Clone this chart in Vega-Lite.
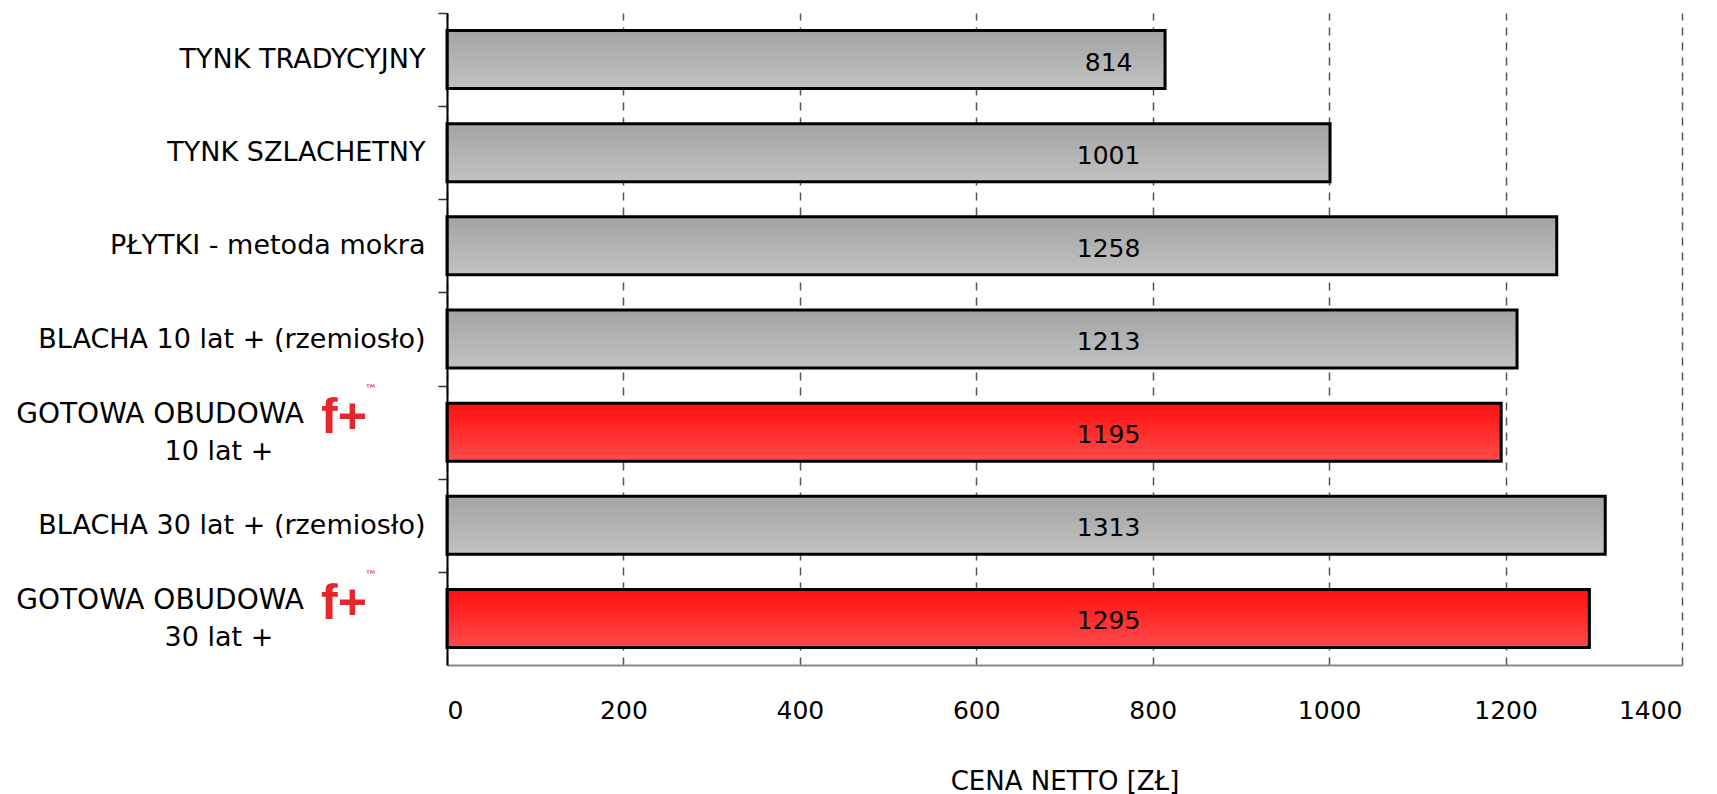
{
  "$schema": "https://vega.github.io/schema/vega-lite/v6.json",
  "width": 1235,
  "height": 652,
  "autosize": {"type": "none"},
  "padding": {"left": 447, "top": 13, "right": 35, "bottom": 129},
  "background": "white",
  "config": {"view": {"stroke": null}, "font": "DejaVu Sans", "text": {"font": "DejaVu Sans"}},
  "data": {"values": [
    {"cat": "TYNK TRADYCYJNY", "value": 814, "group": "gray"},
    {"cat": "TYNK SZLACHETNY ", "value": 1001, "group": "gray"},
    {"cat": "PŁYTKI - metoda mokra", "value": 1258, "group": "gray"},
    {"cat": "BLACHA 10 lat + (rzemiosło)", "value": 1213, "group": "gray"},
    {"cat": "GOTOWA OBUDOWA 10 lat +", "value": 1195, "group": "red", "line1": "GOTOWA OBUDOWA", "line2": "10 lat +", "logo": "f+", "tm": "™"},
    {"cat": "BLACHA  30 lat + (rzemiosło)", "value": 1313, "group": "gray"},
    {"cat": "GOTOWA OBUDOWA 30 lat +", "value": 1295, "group": "red", "line1": "GOTOWA OBUDOWA", "line2": "30 lat +", "logo": "f+", "tm": "™"}
  ]},
  "encoding": {
    "y": {
      "field": "cat",
      "type": "nominal",
      "sort": null,
      "scale": {
        "domain": ["TYNK TRADYCYJNY", "TYNK SZLACHETNY ", "PŁYTKI - metoda mokra", "BLACHA 10 lat + (rzemiosło)", "GOTOWA OBUDOWA 10 lat +", "BLACHA  30 lat + (rzemiosło)", "GOTOWA OBUDOWA 30 lat +"],
        "paddingInner": 0.377,
        "paddingOuter": 0.1885
      },
      "axis": {
        "title": null,
        "labelExpr": "isString(datum.value) && indexof(datum.value, 'GOTOWA') == 0 ? '' : datum.label",
        "tickOffset": -46.57,
        "labelOffset": 46.57,
        "tickSize": 9,
        "tickColor": "#333333",
        "tickWidth": 1.5,
        "domainColor": "#000000",
        "domainWidth": 2,
        "labelFont": "DejaVu Sans",
        "labelFontSize": 27,
        "labelColor": "#000000",
        "labelPadding": 13,
        "labelLimit": 600,
        "zindex": 1
      }
    }
  },
  "layer": [
    {
      "transform": [{"filter": "datum.group == 'gray'"}],
      "mark": {
        "type": "bar",
        "stroke": "#000000",
        "strokeWidth": 3,
        "color": {"gradient": "linear", "x1": 0, "y1": 0, "x2": 0, "y2": 1, "stops": [{"offset": 0, "color": "#a3a3a3"}, {"offset": 1, "color": "#c2c2c2"}]}
      },
      "encoding": {
        "x": {
          "field": "value",
          "type": "quantitative",
          "scale": {"domain": [0, 1400], "nice": false, "zero": true},
          "axis": {
            "values": [0, 200, 400, 600, 800, 1000, 1200, 1400],
            "format": "d",
            "grid": true,
            "gridDash": [8, 7],
            "gridColor": "#555555",
            "gridWidth": 1.5,
            "ticks": false,
            "domainColor": "#888888",
            "domainWidth": 2,
            "labelFont": "DejaVu Sans",
            "labelFontSize": 25,
            "labelColor": "#000000",
            "labelPadding": 33,
            "title": "CENA NETTO [ZŁ]",
            "titleFont": "DejaVu Sans",
            "titleFontSize": 26,
            "titleFontWeight": "normal",
            "titleColor": "#000000",
            "titlePadding": 45
          }
        }
      }
    },
    {
      "transform": [{"filter": "datum.group == 'red'"}],
      "mark": {
        "type": "bar",
        "stroke": "#000000",
        "strokeWidth": 3,
        "color": {"gradient": "linear", "x1": 0, "y1": 0, "x2": 0, "y2": 1, "stops": [{"offset": 0, "color": "#ff1010"}, {"offset": 1, "color": "#ff4a4a"}]}
      },
      "encoding": {
        "x": {"field": "value", "type": "quantitative"}
      }
    },
    {
      "mark": {"type": "text", "fontSize": 25, "dy": 3, "color": "#000000", "align": "center", "baseline": "middle"},
      "encoding": {
        "x": {"datum": 750, "type": "quantitative"},
        "text": {"field": "value", "type": "quantitative"}
      }
    },
    {
      "transform": [{"filter": "datum.group == 'red'"}],
      "mark": {"type": "text", "fontSize": 28, "dx": -143, "dy": -17, "align": "right", "baseline": "middle", "color": "#000000"},
      "encoding": {
        "x": {"datum": 0, "type": "quantitative"},
        "text": {"field": "line1"}
      }
    },
    {
      "transform": [{"filter": "datum.group == 'red'"}],
      "mark": {"type": "text", "fontSize": 27, "dx": -228, "dy": 20, "align": "center", "baseline": "middle", "color": "#000000"},
      "encoding": {
        "x": {"datum": 0, "type": "quantitative"},
        "text": {"field": "line2"}
      }
    },
    {
      "transform": [{"filter": "datum.group == 'red'"}],
      "mark": {"type": "text", "font": "Liberation Sans", "fontSize": 50, "fontWeight": "bold", "dx": -103, "dy": -14, "align": "center", "baseline": "middle", "color": "#e5262d"},
      "encoding": {
        "x": {"datum": 0, "type": "quantitative"},
        "text": {"field": "logo"}
      }
    },
    {
      "transform": [{"filter": "datum.group == 'red'"}],
      "mark": {"type": "text", "fontSize": 13, "dx": -76, "dy": -42, "align": "center", "baseline": "middle", "color": "#e5262d"},
      "encoding": {
        "x": {"datum": 0, "type": "quantitative"},
        "text": {"field": "tm"}
      }
    }
  ]
}
